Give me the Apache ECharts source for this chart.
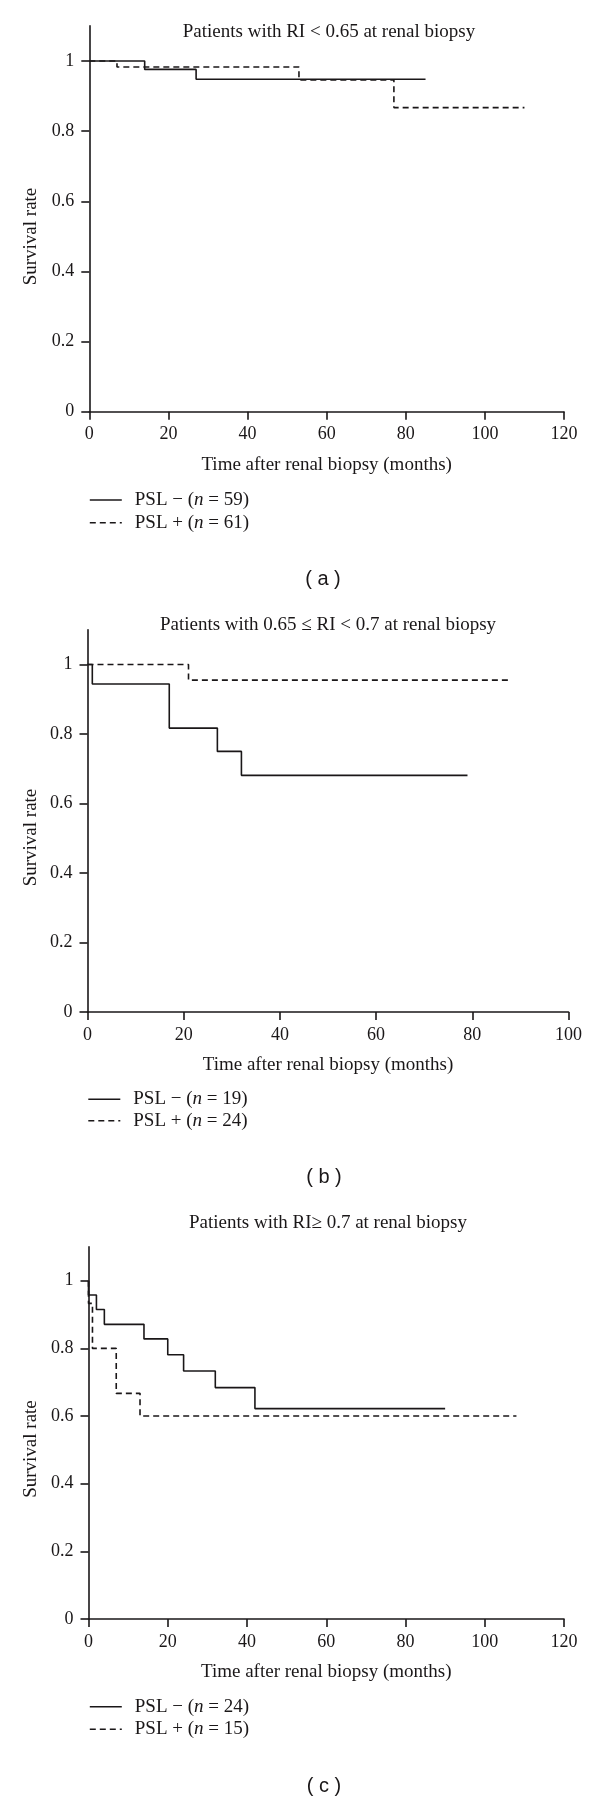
<!DOCTYPE html>
<html><head><meta charset="utf-8">
<script src="https://cdn.jsdelivr.net/npm/echarts@6/dist/echarts.min.js"></script>
<style>html,body{margin:0;padding:0;background:#fff}#c{width:600px;height:1802px}</style>
</head><body><div id="c"></div>
<script>
// ---- data ----
const panelTitles = ['Patients with RI < 0.65 at renal biopsy', 'Patients with 0.65 \u2264 RI < 0.7 at renal biopsy', 'Patients with RI\u2265 0.7 at renal biopsy'];
const panelLabels = ['( a )', '( b )', '( c )'];
const xAxisTitle = 'Time after renal biopsy (months)';
const yAxisTitle = 'Survival rate';
const xTicksA = [0, 20, 40, 60, 80, 100, 120];
const xTicksB = [0, 20, 40, 60, 80, 100];
const xTicksC = [0, 20, 40, 60, 80, 100, 120];
const yTicks = [0, 0.2, 0.4, 0.6, 0.8, 1];
const groupNames = ['PSL \u2212', 'PSL +'];
const nA = [59, 61];
const nB = [19, 24];
const nC = [24, 15];
// Panel (a)
const aMinusTime = [0, 14, 27, 85];
const aMinusSurv = [1, 0.976, 0.948, 0.948];
const aPlusTime = [0, 7, 53, 77, 110];
const aPlusSurv = [1, 0.983, 0.946, 0.867, 0.867];
// Panel (b)
const bMinusTime = [0, 1, 17, 27, 32, 79];
const bMinusSurv = [1, 0.944, 0.817, 0.750, 0.681, 0.681];
const bPlusTime = [0, 21, 88];
const bPlusSurv = [1, 0.955, 0.955];
// Panel (c)
const cMinusTime = [0, 0, 2, 4, 14, 20, 24, 32, 42, 90];
const cMinusSurv = [1, 0.958, 0.915, 0.871, 0.828, 0.781, 0.733, 0.684, 0.622, 0.622];
const cPlusTime = [0, 0, 1, 7, 13, 108];
const cPlusSurv = [1, 0.933, 0.8, 0.667, 0.6, 0.6];

// ---- layout / style ----
const INK = '#1a1718';
const SERIF = '"Liberation Serif", "Times New Roman", serif';
const SANS = '"Liberation Sans", Arial, sans-serif';
const YMAX = 1.1;
const LW = 1.6;
const panels = [
  { ticks: xTicksA, n: nA, minus: [aMinusTime, aMinusSurv], plus: [aPlusTime, aPlusSurv],
    grid: { left: 89.3, top: 25.9, width: 474.7, height: 385.8 },
    titleXY: [329, 31.7], labelXY: [323, 579], yNameXY: [31, 236.5], legendTop: 490.5, legendLeft: 89, legendGap: 3.7 },
  { ticks: xTicksB, n: nB, minus: [bMinusTime, bMinusSurv], plus: [bPlusTime, bPlusSurv],
    grid: { left: 87.5, top: 629.75, width: 481, height: 382.25 },
    titleXY: [328, 625], labelXY: [324, 1177], yNameXY: [31, 837.5], legendTop: 1089.8, legendLeft: 87.5, legendGap: 2.4 },
  { ticks: xTicksC, n: nC, minus: [cMinusTime, cMinusSurv], plus: [cPlusTime, cPlusSurv],
    grid: { left: 88.5, top: 1246.9, width: 475.5, height: 372.1 },
    titleXY: [328, 1223.3], labelXY: [324, 1786], yNameXY: [31, 1449], legendTop: 1697.2, legendLeft: 89, legendGap: 3.6 }
];

const zip = (t, s) => t.map((v, i) => [v, s[i]]);
const legendName = (g, n) => g + ' (n = ' + n + ')';

const grid = [], xAxis = [], yAxis = [], series = [], legend = [], graphic = [];
panels.forEach((p, i) => {
  grid.push(Object.assign({ containLabel: false }, p.grid));
  xAxis.push({
    type: 'value', gridIndex: i, min: p.ticks[0], max: p.ticks[p.ticks.length - 1],
    interval: p.ticks[1] - p.ticks[0],
    name: xAxisTitle, nameLocation: 'middle', nameGap: 44,
    nameTextStyle: { fontFamily: SERIF, fontSize: 19, color: INK },
    axisLine: { show: true, onZero: false, lineStyle: { color: INK, width: LW } },
    axisTick: { show: true, inside: false, length: 8, lineStyle: { color: INK, width: LW } },
    axisLabel: { margin: 14, fontFamily: SERIF, fontSize: 18, color: INK },
    splitLine: { show: false }
  });
  yAxis.push({
    type: 'value', gridIndex: i, min: 0, max: YMAX,
    axisLine: { show: true, onZero: false, lineStyle: { color: INK, width: LW } },
    axisTick: { show: true, inside: false, length: 8, customValues: yTicks, lineStyle: { color: INK, width: LW } },
    axisLabel: { margin: 15, customValues: yTicks, fontFamily: SERIF, fontSize: 18, color: INK,
      formatter: v => String(+(+v).toFixed(1)) },
    splitLine: { show: false }
  });
  const nm = legendName(groupNames[0], p.n[0]);
  const np = legendName(groupNames[1], p.n[1]);
  series.push({
    name: nm, type: 'line', xAxisIndex: i, yAxisIndex: i, step: 'end', symbol: 'none', showSymbol: false,
    data: zip(p.minus[0], p.minus[1]),
    lineStyle: { color: INK, width: LW, type: 'solid' }, itemStyle: { color: INK }
  });
  series.push({
    name: np, type: 'line', xAxisIndex: i, yAxisIndex: i, step: 'end', symbol: 'none', showSymbol: false,
    data: zip(p.plus[0], p.plus[1]),
    lineStyle: { color: INK, width: LW, type: [6, 4] }, itemStyle: { color: INK }
  });
  legend.push({
    data: [nm, np], orient: 'vertical', left: p.legendLeft, top: p.legendTop, padding: 0,
    itemWidth: 32, itemHeight: 14, itemGap: p.legendGap, selectedMode: false,
    itemStyle: { opacity: 0, borderWidth: 0 },
    lineStyle: { width: LW },
    formatter: name => name.replace('(n ', '({i|n} '),
    textStyle: { fontFamily: SERIF, fontSize: 19, lineHeight: 19, color: INK, padding: [0, 0, 0, 8],
      rich: { i: { fontFamily: SERIF, fontSize: 19, lineHeight: 19, fontStyle: 'italic', color: INK } } }
  });
  graphic.push({
    type: 'text', x: p.titleXY[0], y: p.titleXY[1],
    style: { text: panelTitles[i], fill: INK, font: '19px ' + SERIF, textAlign: 'center', textVerticalAlign: 'middle' }
  });
  graphic.push({
    type: 'text', x: p.yNameXY[0], y: p.yNameXY[1], rotation: Math.PI / 2,
    style: { text: yAxisTitle, fill: INK, font: '19px ' + SERIF, textAlign: 'center', textVerticalAlign: 'middle' }
  });
  graphic.push({
    type: 'text', x: p.labelXY[0], y: p.labelXY[1],
    style: { text: panelLabels[i], fill: INK, font: '20px ' + SANS, textAlign: 'center', textVerticalAlign: 'middle' }
  });
});

const chart = echarts.init(document.getElementById('c'), null, { renderer: 'canvas' });
chart.setOption({ animation: false, backgroundColor: '#fff', grid, xAxis, yAxis, series, legend, graphic });
</script>
</body></html>
